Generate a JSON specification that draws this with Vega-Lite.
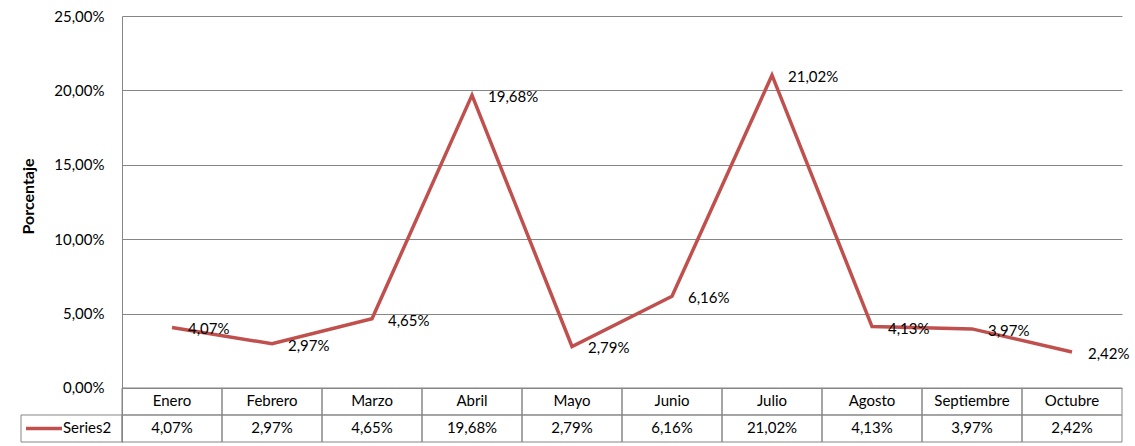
{
  "$schema": "https://vega.github.io/schema/vega-lite/v6.json",
  "autosize": "none",
  "width": 1000,
  "height": 426,
  "padding": {"left": 122, "top": 16, "right": 13, "bottom": 4},
  "background": "white",
  "config": {
    "view": {"stroke": null},
    "font": "Lato",
    "locale": {"number": {"decimal": ",", "thousands": ".", "grouping": [3], "currency": ["", " €"]}}
  },
  "data": {"values": [
    {"mes": "Enero", "valor": 0.0407},
    {"mes": "Febrero", "valor": 0.0297},
    {"mes": "Marzo", "valor": 0.0465},
    {"mes": "Abril", "valor": 0.1968},
    {"mes": "Mayo", "valor": 0.0279},
    {"mes": "Junio", "valor": 0.0616},
    {"mes": "Julio", "valor": 0.2102},
    {"mes": "Agosto", "valor": 0.0413},
    {"mes": "Septiembre", "valor": 0.0397},
    {"mes": "Octubre", "valor": 0.0242}
  ]},
  "encoding": {
    "x": {
      "field": "mes", "type": "nominal", "sort": null,
      "scale": {"paddingInner": 0, "paddingOuter": 0},
      "axis": null
    }
  },
  "layer": [
    {
      "mark": {"type": "rect", "fill": null, "stroke": "#868686", "strokeWidth": 1},
      "encoding": {
        "y": {"datum": 0, "type": "quantitative",
          "scale": {"domain": [-0.0363, 0.25], "nice": false, "zero": false},
          "axis": {
            "values": [0, 0.05, 0.1, 0.15, 0.2, 0.25],
            "format": ".2%",
            "title": "Porcentaje",
            "titleFont": "Lato", "titleFontSize": 16, "titleFontWeight": "bold", "titleColor": "black",
            "titleX": -94, "titleY": 180, "titleAngle": -90, "titleBaseline": "middle", "titleAlign": "center",
            "labelFont": "Lato", "labelFontSize": 15, "labelColor": "black", "labelPadding": 18,
            "ticks": false,
            "grid": true, "gridColor": "#868686", "gridWidth": 1,
            "domainColor": "#868686", "domainWidth": 1
          }
        },
        "y2": {"datum": -0.01815}
      }
    },
    {
      "mark": {"type": "rect", "fill": null, "stroke": "#868686", "strokeWidth": 1},
      "encoding": {
        "y": {"datum": -0.01815, "type": "quantitative"},
        "y2": {"datum": -0.0363}
      }
    },
    {
      "data": {"values": [{}]},
      "mark": {"type": "rect", "fill": null, "stroke": "#868686", "strokeWidth": 1, "xOffset": -151, "x2Offset": -50},
      "encoding": {
        "x": {"datum": "Enero"},
        "x2": {"datum": "Enero"},
        "y": {"datum": -0.01815, "type": "quantitative"},
        "y2": {"datum": -0.0363}
      }
    },
    {
      "data": {"values": [{}]},
      "mark": {"type": "rule", "color": "#C0504D", "strokeWidth": 3.5, "xOffset": -146, "x2Offset": -110},
      "encoding": {
        "x": {"datum": "Enero"},
        "x2": {"datum": "Enero"},
        "y": {"datum": -0.0273, "type": "quantitative"}
      }
    },
    {
      "data": {"values": [{}]},
      "mark": {"type": "text", "align": "left", "baseline": "middle", "fontSize": 15, "color": "black", "dx": -109},
      "encoding": {
        "x": {"datum": "Enero"},
        "y": {"datum": -0.0272, "type": "quantitative"},
        "text": {"value": "Series2"}
      }
    },
    {
      "mark": {"type": "text", "align": "center", "baseline": "middle", "fontSize": 15, "color": "black"},
      "encoding": {
        "y": {"datum": -0.0089, "type": "quantitative"},
        "text": {"field": "mes"}
      }
    },
    {
      "mark": {"type": "text", "align": "center", "baseline": "middle", "fontSize": 15, "color": "black"},
      "encoding": {
        "y": {"datum": -0.0272, "type": "quantitative"},
        "text": {"field": "valor", "format": ".2%"}
      }
    },
    {
      "mark": {"type": "line", "color": "#C0504D", "strokeWidth": 3.5, "strokeJoin": "miter"},
      "encoding": {
        "y": {"field": "valor", "type": "quantitative"}
      }
    },
    {
      "mark": {"type": "text", "align": "left", "baseline": "middle", "dx": 16, "dy": 2, "fontSize": 15, "color": "black"},
      "encoding": {
        "y": {"field": "valor", "type": "quantitative"},
        "text": {"field": "valor", "format": ".2%"}
      }
    }
  ]
}
